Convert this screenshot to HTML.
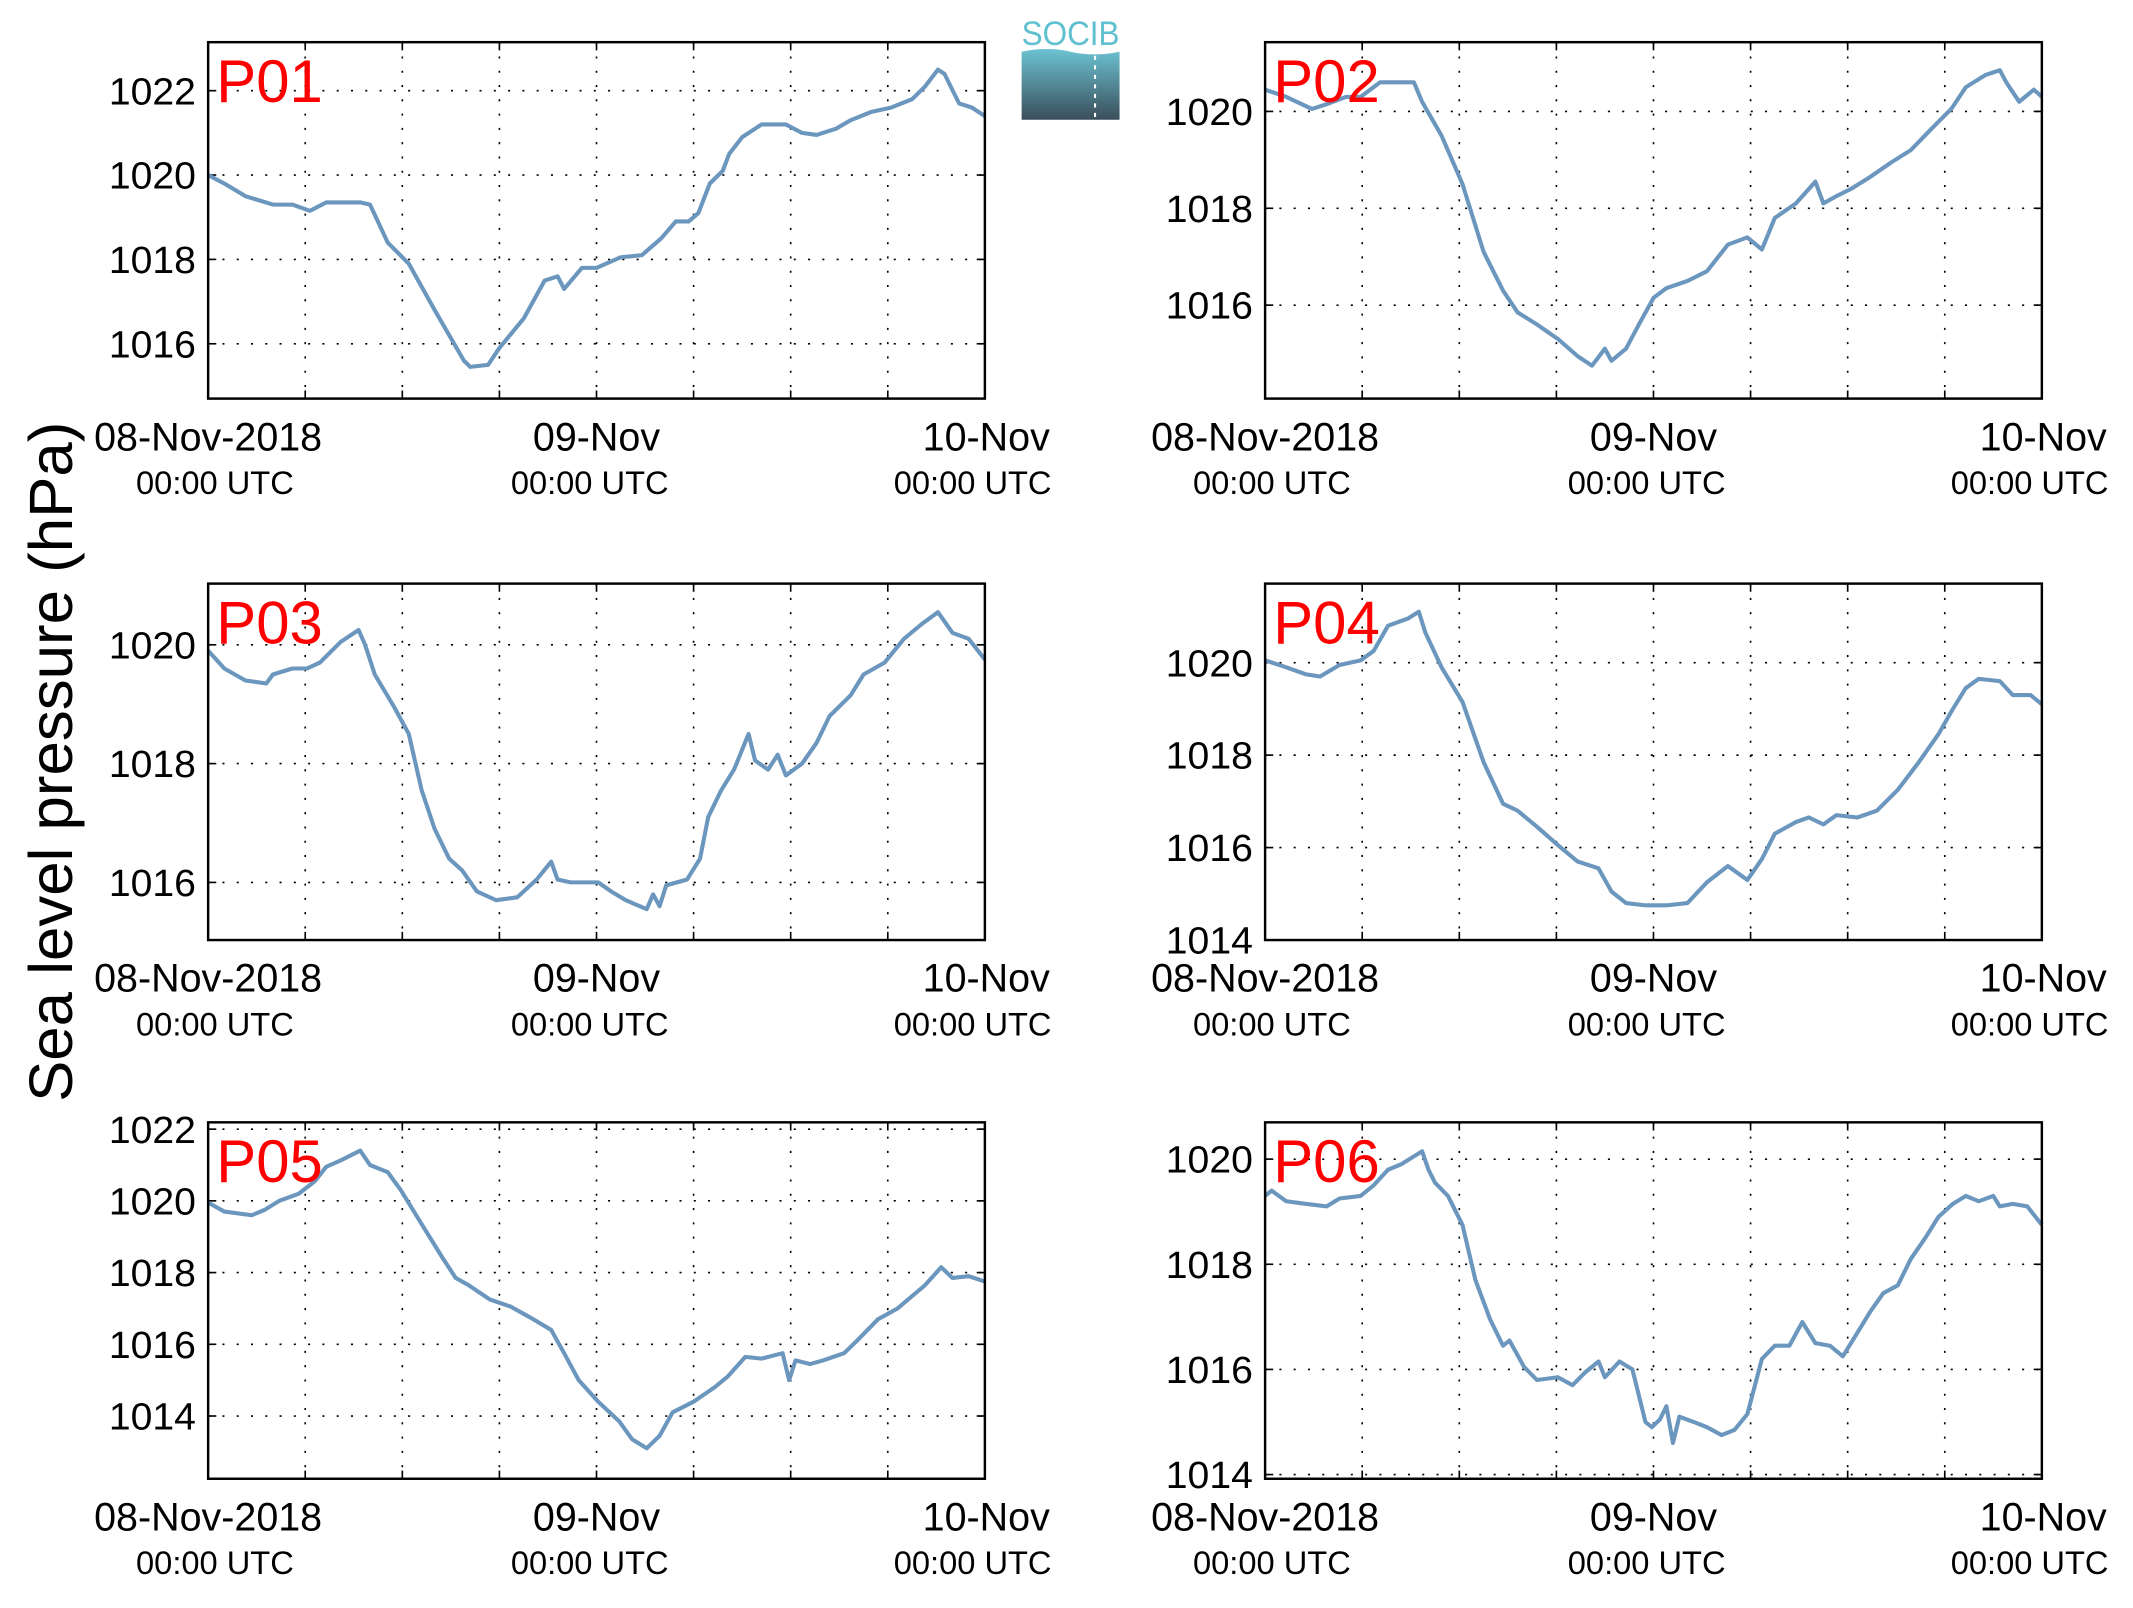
<!DOCTYPE html>
<html><head><meta charset="utf-8"><style>
html,body{margin:0;padding:0;background:#fff;}
svg{display:block;font-family:"Liberation Sans",sans-serif;}
</style></head><body>
<svg id="fig" width="2133" height="1608" viewBox="0 0 1568 1182" preserveAspectRatio="none" xmlns="http://www.w3.org/2000/svg">
<defs><linearGradient id="lg" x1="0" y1="0" x2="0" y2="1"><stop offset="0" stop-color="#6cc3d2"/><stop offset="1" stop-color="#3a4e5a"/></linearGradient></defs>
<g>
<text x="787" y="33" font-size="25" fill="#5fc0cf" text-anchor="middle" textLength="72" lengthAdjust="spacingAndGlyphs">SOCIB</text>
<path d="M751 38 Q770 34 787 38 T823 38 L823 88 L751 88 Z" fill="url(#lg)"/>
<line x1="805" y1="41" x2="805" y2="86" stroke="#fff" stroke-width="1.5" stroke-dasharray="3,4"/>
</g>
<text transform="translate(53,560) rotate(-90)" font-size="45" text-anchor="middle" fill="#000" textLength="500" lengthAdjust="spacingAndGlyphs">Sea level pressure (hPa)</text>
</svg>
<script>
const p01T=[0,1,2.3,4,5.2,6.3,7.3,9.4,10,11.1,12.4,14,15.8,16.2,17.3,18,19.5,20.8,21.6,22,23.1,24,25.5,26.8,28,28.9,29.7,30.3,31,31.8,32.2,33,34.2,35.7,36.7,37.6,38.8,39.7,41,42.2,43.5,44.3,45.1,45.5,46.4,47.2,48];
const p01V=[1020.0,1019.8,1019.5,1019.3,1019.3,1019.15,1019.35,1019.35,1019.3,1018.4,1017.9,1016.8,1015.6,1015.45,1015.5,1015.9,1016.6,1017.5,1017.6,1017.3,1017.8,1017.8,1018.05,1018.1,1018.5,1018.9,1018.9,1019.1,1019.8,1020.1,1020.5,1020.9,1021.2,1021.2,1021.0,1020.95,1021.1,1021.3,1021.5,1021.6,1021.8,1022.1,1022.5,1022.4,1021.7,1021.6,1021.4];
const p02T=[0,1.3,2.9,3.8,5,5.9,7.1,9.2,9.7,10.9,12.2,13.5,14.7,15.6,16.8,18.1,19.3,20.2,21,21.4,22.3,23.1,24,24.8,26.1,27.3,28.6,29.8,30.7,31.5,32.8,33.6,34,34.5,35.3,36.2,37.4,38.7,39.9,41.2,42.4,43.3,44.5,45.4,45.8,46.6,47.5,48];
const p02V=[1020.45,1020.3,1020.05,1020.15,1020.3,1020.3,1020.6,1020.6,1020.2,1019.5,1018.5,1017.1,1016.3,1015.85,1015.6,1015.3,1014.95,1014.75,1015.1,1014.85,1015.1,1015.6,1016.15,1016.35,1016.5,1016.7,1017.25,1017.4,1017.15,1017.8,1018.1,1018.4,1018.55,1018.1,1018.25,1018.4,1018.65,1018.95,1019.2,1019.65,1020.05,1020.5,1020.75,1020.85,1020.6,1020.2,1020.45,1020.3];
const p03T=[0,1,2.3,3.6,4,5.2,6.1,6.9,8.2,9.3,9.7,10.3,11.5,12.4,13.2,14,14.9,15.7,16.6,17.8,19.1,20.3,21.2,21.6,22.4,24.1,24.9,25.8,27.1,27.5,27.9,28.3,29.6,30.4,30.9,31.7,32.5,33.4,33.8,34.6,35.2,35.7,36.7,37.6,38.4,39.7,40.5,41.8,43,44.1,45.1,46,47,48];
const p03V=[1019.9,1019.6,1019.4,1019.35,1019.5,1019.6,1019.6,1019.7,1020.05,1020.25,1020.0,1019.5,1018.95,1018.5,1017.55,1016.9,1016.4,1016.2,1015.85,1015.7,1015.75,1016.05,1016.35,1016.05,1016.0,1016.0,1015.85,1015.7,1015.55,1015.8,1015.6,1015.95,1016.05,1016.4,1017.1,1017.55,1017.9,1018.5,1018.05,1017.9,1018.15,1017.8,1018.0,1018.35,1018.8,1019.15,1019.5,1019.7,1020.1,1020.35,1020.55,1020.2,1020.1,1019.75];
const p04T=[0,1.3,2.5,3.4,4.6,5.9,6.7,7.6,8.8,9.5,9.9,10.9,12.2,13.5,14.7,15.6,16.8,18.1,19.3,20.6,21.4,22.3,23.5,24.8,26.1,27.3,28.6,29.8,30.7,31.5,32.8,33.6,34.5,35.3,36.6,37.8,39.1,40.4,41.6,42.5,43.3,44.1,45.4,46.2,47.3,48];
const p04V=[1020.05,1019.9,1019.75,1019.7,1019.95,1020.05,1020.25,1020.8,1020.95,1021.1,1020.65,1019.9,1019.15,1017.85,1016.95,1016.8,1016.45,1016.05,1015.7,1015.55,1015.05,1014.8,1014.75,1014.75,1014.8,1015.25,1015.6,1015.3,1015.75,1016.3,1016.55,1016.65,1016.5,1016.7,1016.65,1016.8,1017.25,1017.85,1018.45,1019.0,1019.45,1019.65,1019.6,1019.3,1019.3,1019.1];
const p05T=[0,1,2.7,3.5,4.4,5.6,6.6,7.3,8.3,9.4,10,11.1,11.9,13.2,14.5,15.3,16.1,17.4,18.7,19.9,21.2,22,22.9,24.1,25.4,26.2,27.1,27.9,28.7,30,31.3,32.1,33.2,34.2,35.5,35.9,36.3,37.2,38,39.3,40.1,41.4,42.6,44.3,45.3,46,47,48];
const p05V=[1019.95,1019.7,1019.6,1019.75,1020.0,1020.2,1020.55,1020.95,1021.15,1021.4,1021.0,1020.8,1020.3,1019.35,1018.4,1017.85,1017.65,1017.25,1017.05,1016.75,1016.4,1015.75,1015.0,1014.4,1013.85,1013.35,1013.1,1013.45,1014.1,1014.4,1014.8,1015.1,1015.65,1015.6,1015.75,1015.0,1015.55,1015.45,1015.55,1015.75,1016.1,1016.7,1017.0,1017.65,1018.15,1017.85,1017.9,1017.75];
const p06T=[0,0.4,1.3,2.5,3.8,4.6,5.9,6.7,7.6,8.4,9.7,10.1,10.5,11.3,12.2,13,13.9,14.7,15.1,16,16.8,18.1,19,19.8,20.6,21,21.9,22.7,23.5,23.9,24.4,24.8,25.2,25.6,26.5,27.3,28.2,29,29.8,30.7,31.5,32.4,33.2,34,34.9,35.7,36.6,37.4,38.2,39.1,39.9,40.8,41.6,42.5,43.3,44.1,45,45.4,46.2,47.1,48];
const p06V=[1019.3,1019.4,1019.2,1019.15,1019.1,1019.25,1019.3,1019.5,1019.8,1019.9,1020.15,1019.8,1019.55,1019.3,1018.75,1017.7,1016.95,1016.45,1016.55,1016.05,1015.8,1015.85,1015.7,1015.95,1016.15,1015.85,1016.15,1016.0,1015.0,1014.9,1015.05,1015.3,1014.6,1015.1,1015.0,1014.9,1014.75,1014.85,1015.15,1016.2,1016.45,1016.45,1016.9,1016.5,1016.45,1016.25,1016.7,1017.1,1017.45,1017.6,1018.1,1018.5,1018.9,1019.15,1019.3,1019.2,1019.3,1019.1,1019.15,1019.1,1018.75];
const panelNames=["P01","P02","P03","P04","P05","P06"];
const panelYMin=[1014.7,1014.07,1015.03,1014.0,1012.25,1013.92];
const panelYMax=[1023.15,1021.43,1021.03,1021.71,1022.19,1020.7];
const panelTicks=[[1016,1018,1020,1022],[1016,1018,1020],[1016,1018,1020],[1014,1016,1018,1020],[1014,1016,1018,1020,1022],[1014,1016,1018,1020]];
const xTickHours=[0,24,48];
const xTickLabels=["08-Nov-2018","09-Nov","10-Nov"];
const series=[[p01T,p01V],[p02T,p02V],[p03T,p03V],[p04T,p04V],[p05T,p05V],[p06T,p06V]];

const NS="http://www.w3.org/2000/svg";
const svg=document.getElementById('fig');
function mk(tag,attrs,parent){const e=document.createElementNS(NS,tag);for(const k in attrs)e.setAttribute(k,attrs[k]);(parent||svg).appendChild(e);return e;}
const lefts=[153,930], tops=[31,429,825], W=571, H=262;
const labShift=[0,0,1], subShift=[5,-5,-9];
for(let i=0;i<6;i++){
  const x0=lefts[i%2], y0=tops[Math.floor(i/2)];
  const g=mk('g',{});
  
  
  const X=h=>x0+h/48*W;
  const Y=v=>y0+H-(v-panelYMin[i])/(panelYMax[i]-panelYMin[i])*H;
  for(let h=6;h<48;h+=6){
    const l=mk('line',{x1:X(h),x2:X(h),y1:y0,y2:y0+H,stroke:'#000','stroke-width':1.2,'stroke-dasharray':'1.5,9'},g);
    
    mk('line',{x1:X(h),x2:X(h),y1:y0+H,y2:y0+H-6,stroke:'#000','stroke-width':1.2},g);
    mk('line',{x1:X(h),x2:X(h),y1:y0,y2:y0+6,stroke:'#000','stroke-width':1.2},g);
  }
  panelTicks[i].forEach(v=>{
    const y=Y(v);
    const l=mk('line',{x1:x0,x2:x0+W,y1:y,y2:y,stroke:'#000','stroke-width':1.2,'stroke-dasharray':'1.5,9'},g);
    
    mk('line',{x1:x0,x2:x0+6,y1:y,y2:y,stroke:'#000','stroke-width':1.2},g);
    mk('line',{x1:x0+W,x2:x0+W-6,y1:y,y2:y,stroke:'#000','stroke-width':1.2},g);
    const t=mk('text',{x:x0-9,y:y+10,'font-size':28,'text-anchor':'end',fill:'#000',textLength:64,lengthAdjust:'spacingAndGlyphs'},g);
    
    t.textContent=v;
  });
  xTickHours.forEach((h,k)=>{
    const t=mk('text',{x:X(h)+labShift[k],y:y0+H+38,'font-size':29,'text-anchor':'middle',fill:'#000'},g);
    
    t.textContent=xTickLabels[k];
    const u=mk('text',{x:X(h)+subShift[k],y:y0+H+70,'font-size':24,'text-anchor':'middle',fill:'#000'},g);
    
    u.textContent='00:00 UTC';
  });
  const [T,V]=series[i];
  let d='';
  for(let k=0;k<T.length;k++){d+=(k?'L':'M')+X(T[k]).toFixed(1)+' '+Y(V[k]).toFixed(1);}
  const p=mk('path',{d:d,fill:'none',stroke:'#6b96bd','stroke-width':3,'stroke-linejoin':'round'},g);
  
  const fr=mk('rect',{x:x0,y:y0,width:W,height:H,fill:'none',stroke:'#000','stroke-width':1.8},g);
  
  const lab=mk('text',{x:x0+6,y:y0+44,'font-size':44,fill:'#ff0000'},g);
  
  lab.textContent=panelNames[i];
}
</script>
</body></html>
